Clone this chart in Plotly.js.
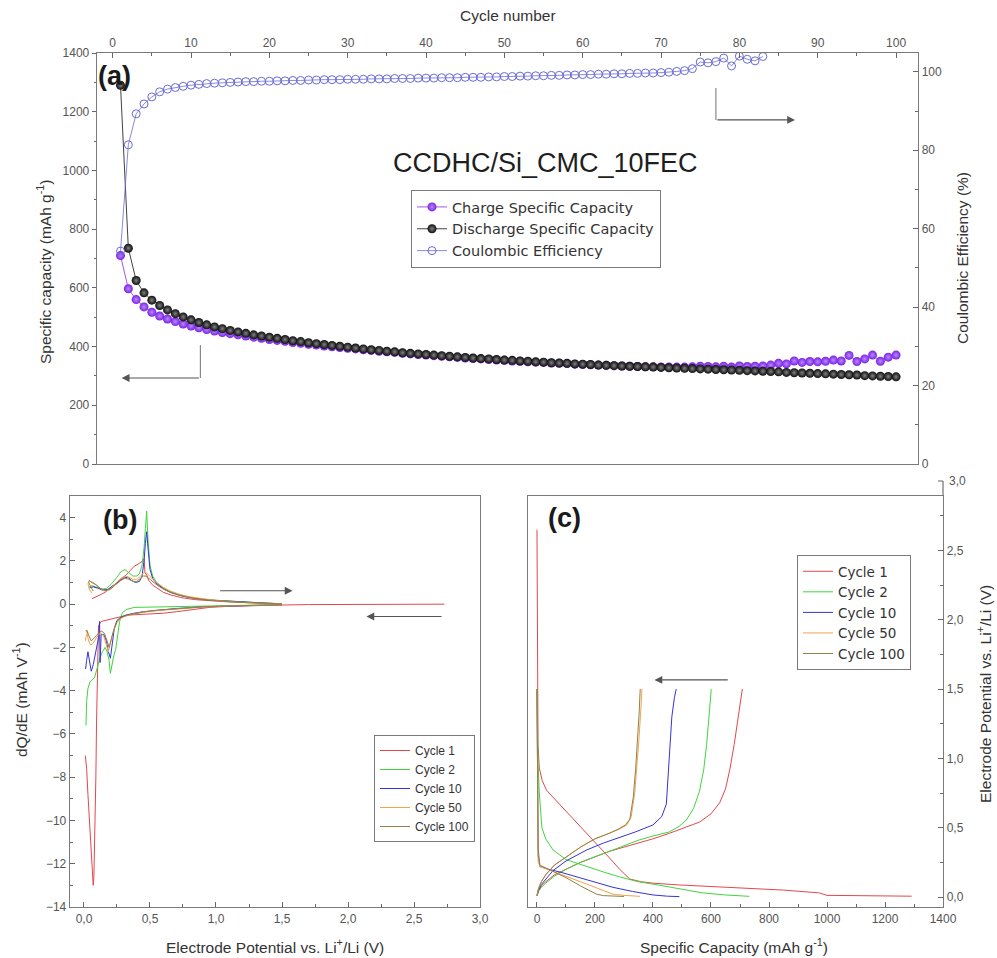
<!DOCTYPE html>
<html>
<head>
<meta charset="utf-8">
<script src="https://cdn.plot.ly/plotly-3.0.1.min.js"></script>
<style>
  html, body { margin: 0; padding: 0; background: #ffffff; }
  #chart { width: 997px; height: 958px; }
</style>
</head>
<body>
<div id="chart"></div>
<script>
// ---------- (a) cycling performance, cycles 1..100 ----------
const chargeCapacity = [
  710, 597, 560, 535, 517, 504, 494, 485, 477, 470,
  464, 458, 453, 448, 444, 440, 436, 432, 428, 424,
  421, 418, 414, 411, 408, 405, 402, 399, 397, 394,
  392, 389, 387, 384, 382, 380, 377, 375, 373, 371,
  369, 367, 365, 363, 361, 359, 358, 356, 354, 353,
  351, 350, 348, 347, 346, 344, 343, 342, 340, 339,
  338, 337, 336, 335, 334, 333, 332, 331, 331, 330,
  330, 330, 330, 331, 333, 332, 331, 333, 330, 334,
  332, 333, 334, 337, 343, 341, 351, 346, 349, 348,
  350, 354, 351, 370, 349, 358, 371, 350, 364, 371
];
const dischargeCapacity = [
  1290, 735, 625, 583, 558, 540, 525, 512, 501, 491,
  482, 474, 467, 461, 455, 450, 445, 440, 436, 432,
  428, 424, 420, 417, 413, 410, 407, 404, 401, 398,
  395, 392, 389, 387, 384, 382, 379, 377, 375, 373,
  371, 369, 367, 365, 363, 361, 359, 358, 356, 354,
  353, 351, 350, 348, 347, 345, 344, 343, 341, 340,
  339, 337, 336, 335, 334, 333, 332, 331, 330, 329,
  328, 327, 326, 325, 324, 323, 322, 321, 320, 319,
  318, 317, 316, 315, 314, 312, 311, 310, 309, 308,
  307, 306, 305, 304, 303, 301, 300, 299, 298, 297
];
// Coulombic efficiency (%), cycles 1..83 (later cycles lie above the axis range)
const coulombicEfficiency = [
  54.3, 81.4, 89.3, 91.8, 93.6, 94.9, 95.6, 96.0, 96.3, 96.6,
  96.8, 97.0, 97.1, 97.2, 97.3, 97.4, 97.5, 97.5, 97.6, 97.6,
  97.7, 97.7, 97.8, 97.8, 97.9, 97.9, 98.0, 98.0, 98.0, 98.1,
  98.1, 98.1, 98.2, 98.2, 98.2, 98.3, 98.3, 98.3, 98.4, 98.4,
  98.4, 98.5, 98.5, 98.5, 98.6, 98.6, 98.6, 98.7, 98.7, 98.8,
  98.8, 98.9, 98.9, 99.0, 99.0, 99.1, 99.1, 99.2, 99.2, 99.3,
  99.3, 99.4, 99.4, 99.5, 99.5, 99.6, 99.6, 99.7, 99.7, 99.8,
  99.9, 100.1, 100.3, 100.8, 102.5, 102.3, 102.6, 103.5, 101.5, 104.0,
  103.2, 102.8, 103.9
];
const cycleNumber = chargeCapacity.map((_, i) => i + 1);
const ceCycleNumber = coulombicEfficiency.map((_, i) => i + 1);

// ---------- (b) differential capacity dQ/dE vs potential ----------
const cycleNames = ['Cycle 1', 'Cycle 2', 'Cycle 10', 'Cycle 50', 'Cycle 100'];
const cycleColors = ['#E3474B', '#3FD43F', '#3434D6', '#F4A24C', '#918247'];

const dqdeChgV_1 = [0.06, 0.1, 0.13, 0.16, 0.2, 0.24, 0.28, 0.32, 0.35, 0.38, 0.41, 0.43, 0.445, 0.455, 0.462, 0.475, 0.49, 0.52, 0.56, 0.6, 0.66, 0.74, 0.84, 0.95, 1.05, 1.15, 1.25, 1.35, 1.45, 1.5];
const dqdeChg_1  = [0.25, 0.35, 0.45, 0.55, 0.75, 0.95, 1.15, 1.35, 1.55, 1.75, 1.85, 1.95, 2.0, 2.1, 1.45, 1.35, 1.1, 0.88, 0.7, 0.55, 0.42, 0.3, 0.21, 0.15, 0.12, 0.09, 0.07, 0.05, 0.03, 0.02];
const dqdeDisV_1 = [2.73, 2.4, 2.0, 1.7, 1.5, 1.3, 1.1, 0.95, 0.8, 0.7, 0.6, 0.5, 0.42, 0.35, 0.3, 0.25, 0.2, 0.16, 0.13, 0.11, 0.1, 0.095, 0.09, 0.085, 0.08, 0.075, 0.07, 0.065, 0.06, 0.05, 0.04, 0.03, 0.02, 0.012, 0.01];
const dqdeDis_1  = [0, 0, -0.01, -0.02, -0.04, -0.06, -0.1, -0.15, -0.25, -0.35, -0.42, -0.45, -0.48, -0.5, -0.55, -0.62, -0.7, -0.75, -0.8, -1.0, -3.6, -5.5, -8.0, -10.2, -11.8, -12.6, -13.0, -12.5, -12.0, -11.2, -10.0, -8.8, -7.6, -7.2, -7.0];

const dqdeChgV_2 = [0.04, 0.06, 0.09, 0.13, 0.17, 0.21, 0.25, 0.28, 0.31, 0.34, 0.37, 0.4, 0.42, 0.44, 0.455, 0.465, 0.475, 0.485, 0.5, 0.52, 0.55, 0.6, 0.66, 0.74, 0.84, 0.95, 1.1, 1.25, 1.4, 1.5];
const dqdeChg_2  = [0.8, 0.85, 0.8, 0.7, 0.72, 0.95, 1.25, 1.5, 1.6, 1.45, 1.3, 1.3, 1.4, 1.8, 2.6, 3.5, 4.3, 3.0, 1.8, 1.3, 1.0, 0.75, 0.55, 0.4, 0.28, 0.2, 0.14, 0.08, 0.04, 0.02];
const dqdeDisV_2 = [1.5, 1.3, 1.1, 0.9, 0.7, 0.55, 0.45, 0.38, 0.32, 0.29, 0.27, 0.255, 0.24, 0.225, 0.21, 0.2, 0.19, 0.175, 0.16, 0.14, 0.12, 0.1, 0.08, 0.06, 0.045, 0.03, 0.02, 0.015];
const dqdeDis_2  = [-0.02, -0.04, -0.06, -0.08, -0.09, -0.1, -0.12, -0.15, -0.25, -0.4, -0.8, -1.5, -2.1, -2.4, -2.8, -3.2, -2.6, -2.2, -2.0, -2.2, -2.5, -3.0, -3.4, -3.5, -3.6, -3.9, -4.5, -5.6];

const dqdeChgV_10 = [0.04, 0.07, 0.1, 0.14, 0.18, 0.22, 0.26, 0.3, 0.33, 0.36, 0.39, 0.42, 0.44, 0.455, 0.465, 0.475, 0.485, 0.5, 0.52, 0.55, 0.6, 0.66, 0.74, 0.84, 0.95, 1.1, 1.25, 1.4, 1.5];
const dqdeChg_10  = [0.75, 0.8, 0.75, 0.65, 0.68, 0.85, 1.05, 1.2, 1.25, 1.1, 1.0, 1.05, 1.3, 2.0, 2.8, 3.35, 2.6, 1.6, 1.2, 0.95, 0.72, 0.53, 0.38, 0.27, 0.19, 0.13, 0.08, 0.04, 0.02];
const dqdeDisV_10 = [1.5, 1.3, 1.1, 0.9, 0.7, 0.55, 0.45, 0.38, 0.32, 0.28, 0.25, 0.23, 0.215, 0.2, 0.185, 0.17, 0.15, 0.13, 0.122, 0.118, 0.112, 0.1, 0.085, 0.07, 0.055, 0.04, 0.03, 0.02, 0.012];
const dqdeDis_10  = [-0.03, -0.05, -0.08, -0.12, -0.2, -0.28, -0.35, -0.42, -0.5, -0.6, -0.75, -1.1, -1.8, -2.5, -2.2, -1.7, -1.4, -1.4, -2.7, -0.8, -1.5, -1.9, -2.3, -2.8, -3.1, -2.6, -2.2, -2.6, -3.0];

const dqdeChgV_50 = [0.06, 0.04, 0.03, 0.045, 0.07, 0.1, 0.13, 0.16, 0.2, 0.24, 0.28, 0.31, 0.34, 0.37, 0.4, 0.43, 0.45, 0.47, 0.49, 0.52, 0.56, 0.6, 0.65, 0.72, 0.8, 0.9, 1.0, 1.15, 1.3, 1.5];
const dqdeChg_50  = [0.5, 0.7, 0.95, 1.05, 1.0, 0.85, 0.7, 0.6, 0.7, 0.95, 1.2, 1.3, 1.25, 1.15, 1.15, 1.3, 1.45, 1.45, 1.35, 1.15, 0.95, 0.78, 0.62, 0.46, 0.34, 0.24, 0.17, 0.1, 0.05, 0.02];
const dqdeDisV_50 = [1.5, 1.3, 1.1, 0.9, 0.7, 0.55, 0.45, 0.38, 0.32, 0.28, 0.25, 0.22, 0.2, 0.185, 0.17, 0.15, 0.13, 0.11, 0.09, 0.07, 0.05, 0.035, 0.025, 0.02, 0.03, 0.015, 0.01];
const dqdeDis_50  = [-0.03, -0.05, -0.08, -0.13, -0.22, -0.3, -0.38, -0.45, -0.55, -0.65, -0.85, -1.3, -1.8, -2.2, -1.9, -1.5, -1.35, -1.4, -1.6, -1.8, -1.9, -1.7, -1.4, -1.2, -1.3, -1.5, -1.7];

const dqdeChgV_100 = [0.07, 0.05, 0.035, 0.04, 0.06, 0.09, 0.12, 0.16, 0.2, 0.24, 0.28, 0.31, 0.34, 0.37, 0.4, 0.43, 0.45, 0.47, 0.49, 0.52, 0.56, 0.6, 0.65, 0.72, 0.8, 0.9, 1.0, 1.15, 1.3, 1.5];
const dqdeChg_100  = [0.6, 0.8, 1.0, 1.1, 1.0, 0.9, 0.75, 0.62, 0.68, 0.9, 1.1, 1.2, 1.15, 1.05, 1.05, 1.2, 1.3, 1.3, 1.2, 1.02, 0.85, 0.7, 0.56, 0.42, 0.3, 0.21, 0.15, 0.09, 0.05, 0.02];
const dqdeDisV_100 = [1.5, 1.3, 1.1, 0.9, 0.7, 0.55, 0.45, 0.38, 0.32, 0.28, 0.25, 0.225, 0.205, 0.19, 0.175, 0.155, 0.135, 0.115, 0.095, 0.075, 0.055, 0.04, 0.03, 0.02, 0.012];
const dqdeDis_100  = [-0.03, -0.05, -0.08, -0.13, -0.2, -0.28, -0.36, -0.43, -0.52, -0.62, -0.8, -1.2, -1.6, -2.0, -1.7, -1.35, -1.25, -1.3, -1.45, -1.6, -1.7, -1.5, -1.3, -1.2, -1.25];

// ---------- (c) galvanostatic profiles: capacity (mAh/g) vs potential (V) ----------
const disCap_1 = [0, 0.5, 1, 2, 3.5, 8, 18, 33, 60, 100, 140, 180, 220, 251, 285, 320, 360, 400, 491, 600, 742, 850, 973, 990, 1000, 1100, 1200, 1292];
const disPot_1 = [2.65, 2.3, 1.9, 1.4, 1.1, 0.93, 0.84, 0.77, 0.71, 0.62, 0.53, 0.44, 0.35, 0.28, 0.2, 0.13, 0.11, 0.1, 0.087, 0.077, 0.065, 0.05, 0.03, 0.02, 0.012, 0.01, 0.008, 0.006];
const chgCap_1 = [0, 5, 15, 30, 60, 100, 150, 200, 250, 300, 350, 400, 457, 510, 560, 600, 630, 650, 665, 680, 695, 708];
const chgPot_1 = [0.01, 0.04, 0.08, 0.11, 0.16, 0.2, 0.25, 0.29, 0.33, 0.36, 0.39, 0.42, 0.46, 0.5, 0.54, 0.6, 0.68, 0.78, 0.92, 1.1, 1.3, 1.5];

const disCap_2 = [0, 1, 2, 4, 8, 12, 17, 30, 55, 100, 170, 230, 285, 350, 423, 500, 570, 650, 700, 732];
const disPot_2 = [1.5, 1.35, 1.15, 0.95, 0.75, 0.6, 0.5, 0.42, 0.34, 0.27, 0.22, 0.18, 0.145, 0.11, 0.085, 0.058, 0.03, 0.015, 0.008, 0.005];
const chgCap_2 = [0, 5, 15, 30, 60, 100, 150, 200, 250, 300, 350, 400, 457, 490, 515, 540, 560, 575, 585, 593, 601];
const chgPot_2 = [0.01, 0.04, 0.07, 0.1, 0.15, 0.2, 0.25, 0.29, 0.33, 0.37, 0.41, 0.44, 0.47, 0.51, 0.555, 0.64, 0.76, 0.92, 1.1, 1.3, 1.5];

const disCap_10 = [0, 1, 2, 4, 10, 40, 80, 137, 200, 262, 330, 400, 450, 491];
const disPot_10 = [1.5, 0.9, 0.5, 0.3, 0.22, 0.2, 0.18, 0.145, 0.11, 0.07, 0.04, 0.015, 0.006, 0.003];
const chgCap_10 = [0, 5, 15, 30, 55, 100, 172, 230, 285, 340, 400, 430, 446, 452, 457, 465, 474, 480];
const chgPot_10 = [0.01, 0.05, 0.09, 0.13, 0.19, 0.26, 0.34, 0.39, 0.43, 0.47, 0.52, 0.58, 0.67, 0.85, 1.06, 1.3, 1.44, 1.5];

const disCap_50 = [0, 1, 2, 4, 10, 50, 100, 150, 200, 240, 262, 300, 330, 355];
const disPot_50 = [1.5, 0.8, 0.4, 0.26, 0.22, 0.19, 0.15, 0.11, 0.07, 0.04, 0.02, 0.012, 0.008, 0.005];
const chgCap_50 = [0, 5, 15, 30, 60, 100, 150, 200, 250, 285, 310, 325, 337, 345, 352, 358, 362];
const chgPot_50 = [0.01, 0.06, 0.11, 0.16, 0.23, 0.29, 0.36, 0.42, 0.46, 0.49, 0.52, 0.58, 0.75, 0.95, 1.15, 1.35, 1.5];

const disCap_100 = [0, 1, 2, 4, 10, 50, 100, 150, 206, 230, 260, 300];
const disPot_100 = [1.5, 1.2, 0.7, 0.35, 0.23, 0.19, 0.14, 0.08, 0.02, 0.01, 0.007, 0.004];
const chgCap_100 = [0, 5, 15, 30, 60, 100, 150, 200, 250, 280, 305, 320, 332, 340, 347, 352, 356];
const chgPot_100 = [0.01, 0.06, 0.11, 0.16, 0.23, 0.29, 0.36, 0.42, 0.46, 0.49, 0.52, 0.56, 0.72, 0.92, 1.12, 1.32, 1.5];

// ---------- page geometry helpers (pixel -> paper fraction) ----------
const W = 997, H = 958;
const pxX = v => v / W;
const pxY = v => 1 - v / H;

const FONT = 'Liberation Sans, Arial, Helvetica, sans-serif';
const LEGEND_FONT = 'DejaVu Sans, Liberation Sans, Arial, sans-serif';
const AXIS_LINE = '#7a7a7a';
const TICK_FONT = { family: FONT, size: 12, color: '#555555' };

const traces = [];

// (a) capacity and efficiency
traces.push({
  x: cycleNumber, y: chargeCapacity, xaxis: 'x', yaxis: 'y',
  name: 'Charge Specific Capacity', mode: 'lines+markers', legend: 'legend',
  line: { color: '#8A2BE2', width: 0.8 },
  marker: { size: 9, color: '#7B22E4', gradient: { type: 'radial', color: '#B889FF' }, line: { width: 0 } }
});
traces.push({
  x: cycleNumber, y: dischargeCapacity, xaxis: 'x', yaxis: 'y',
  name: 'Discharge Specific Capacity', mode: 'lines+markers', legend: 'legend',
  line: { color: '#111111', width: 0.8 },
  marker: { size: 9, color: '#0d0d0d', gradient: { type: 'radial', color: '#808080' }, line: { width: 0 } }
});
traces.push({
  x: ceCycleNumber, y: coulombicEfficiency, xaxis: 'x', yaxis: 'y2',
  name: 'Coulombic Efficiency', mode: 'lines+markers', legend: 'legend',
  line: { color: '#6B6BD6', width: 0.8 },
  marker: { size: 8, symbol: 'circle-open', color: '#6B6BD6', line: { width: 1, color: '#6B6BD6' } }
});

// (b) dQ/dE curves
const dqdeSets = [
  [dqdeChgV_1, dqdeChg_1, dqdeDisV_1, dqdeDis_1],
  [dqdeChgV_2, dqdeChg_2, dqdeDisV_2, dqdeDis_2],
  [dqdeChgV_10, dqdeChg_10, dqdeDisV_10, dqdeDis_10],
  [dqdeChgV_50, dqdeChg_50, dqdeDisV_50, dqdeDis_50],
  [dqdeChgV_100, dqdeChg_100, dqdeDisV_100, dqdeDis_100]
];
dqdeSets.forEach((s, i) => {
  traces.push({
    x: s[0], y: s[1], xaxis: 'x2', yaxis: 'y3', mode: 'lines',
    name: cycleNames[i], legend: 'legend2', legendgroup: 'b' + i,
    line: { color: cycleColors[i], width: 1 }
  });
  traces.push({
    x: s[2], y: s[3], xaxis: 'x2', yaxis: 'y3', mode: 'lines',
    name: cycleNames[i], legend: 'legend2', legendgroup: 'b' + i, showlegend: false,
    line: { color: cycleColors[i], width: 1 }
  });
});

// (c) voltage profiles
const profileSets = [
  [disCap_1, disPot_1, chgCap_1, chgPot_1],
  [disCap_2, disPot_2, chgCap_2, chgPot_2],
  [disCap_10, disPot_10, chgCap_10, chgPot_10],
  [disCap_50, disPot_50, chgCap_50, chgPot_50],
  [disCap_100, disPot_100, chgCap_100, chgPot_100]
];
profileSets.forEach((s, i) => {
  traces.push({
    x: s[0], y: s[1], xaxis: 'x3', yaxis: 'y4', mode: 'lines',
    name: cycleNames[i], legend: 'legend3', legendgroup: 'c' + i,
    line: { color: cycleColors[i], width: 1 }
  });
  traces.push({
    x: s[2], y: s[3], xaxis: 'x3', yaxis: 'y4', mode: 'lines',
    name: cycleNames[i], legend: 'legend3', legendgroup: 'c' + i, showlegend: false,
    line: { color: cycleColors[i], width: 1 }
  });
});

const baseAxis = {
  showline: true, linecolor: AXIS_LINE, linewidth: 1.3,
  showgrid: false, zeroline: false, tickfont: TICK_FONT,
  tickcolor: '#666', tickwidth: 1, ticklen: 5
};

const legendBase = {
  xanchor: 'left', yanchor: 'top', bgcolor: 'rgba(255,255,255,0)',
  bordercolor: '#7a7a7a', borderwidth: 1, tracegroupgap: 0, itemwidth: 30,
  font: { family: FONT, size: 13, color: '#333' }
};

const TITLE_FONT = { family: FONT, size: 15.5, color: '#333' };
const ann = (text, x, y, opts) => Object.assign({
  text: text, x: x, y: y, xref: 'paper', yref: 'paper', showarrow: false,
  xanchor: 'center', yanchor: 'middle', font: TITLE_FONT
}, opts || {});
const PANEL_FONT = { family: FONT, size: 27, color: '#1a1a1a' };

const arrow = (xref, yref, x0, y0, x1, y1) => ({
  xref: xref, yref: yref, axref: xref, ayref: yref,
  x: x1, y: y1, ax: x0, ay: y0, text: '', showarrow: true,
  arrowhead: 2, arrowsize: 1.3, arrowwidth: 1.2, arrowcolor: '#555'
});

// panel (c) box; its potential axis continues a little above the box up to 3,0 V
const cLeft = pxX(528), cRight = pxX(943), cTop = pxY(496), cBottom = pxY(907), cAxisTop = pxY(481);

const layout = {
  width: W, height: H,
  margin: { l: 0, r: 0, t: 0, b: 0 },
  paper_bgcolor: '#ffffff', plot_bgcolor: 'rgba(0,0,0,0)',
  separators: ',.',
  font: { family: FONT },
  hovermode: false,

  // (a)
  xaxis: Object.assign({}, baseAxis, {
    domain: [pxX(97), pxX(918)], anchor: 'y', side: 'top', mirror: true,
    range: [-2, 102.8], tick0: 0, dtick: 10, ticks: 'inside',
    minor: { dtick: 5, ticks: 'inside', ticklen: 3, tickcolor: '#666' }
  }),
  yaxis: Object.assign({}, baseAxis, {
    domain: [pxY(464), pxY(53)], anchor: 'x', mirror: true,
    range: [0, 1400], dtick: 200, ticks: 'outside', ticklen: 4,
    minor: { dtick: 100, ticks: 'outside', ticklen: 2, tickcolor: '#666' }
  }),
  yaxis2: Object.assign({}, baseAxis, {
    overlaying: 'y', anchor: 'x', side: 'right',
    range: [0, 104.8], dtick: 20, ticks: 'inside',
    minor: { dtick: 10, ticks: 'inside', ticklen: 3, tickcolor: '#666' }
  }),

  // (b)
  xaxis2: Object.assign({}, baseAxis, {
    domain: [pxX(70), pxX(480)], anchor: 'y3', mirror: true,
    range: [-0.106, 3.0], tick0: 0, dtick: 0.5, tickformat: '.1f', ticks: 'inside',
    minor: { dtick: 0.25, ticks: 'inside', ticklen: 3, tickcolor: '#666' }
  }),
  yaxis3: Object.assign({}, baseAxis, {
    domain: [pxY(907), pxY(496)], anchor: 'x2', mirror: true,
    range: [-14, 5.0], dtick: 2, ticks: 'inside',
    minor: { dtick: 1, ticks: 'inside', ticklen: 3, tickcolor: '#666' }
  }),

  // (c)
  xaxis3: Object.assign({}, baseAxis, {
    domain: [cLeft, cRight], anchor: 'y4', mirror: true,
    range: [-31, 1400], tick0: 0, dtick: 200, ticks: 'inside',
    minor: { dtick: 100, ticks: 'inside', ticklen: 3, tickcolor: '#666' }
  }),
  yaxis4: Object.assign({}, baseAxis, {
    domain: [cBottom, cTop], anchor: 'x3', side: 'right', mirror: true,
    range: [-0.072, 2.893], tick0: 0, dtick: 0.5, tickformat: '.1f', ticks: 'inside',
    minor: { dtick: 0.25, ticks: 'inside', ticklen: 3, tickcolor: '#666' }
  }),

  legend: Object.assign({}, legendBase, { x: pxX(411), y: pxY(190), font: { family: LEGEND_FONT, size: 14.5, color: '#333' } }),
  legend2: Object.assign({}, legendBase, { x: pxX(374), y: pxY(735), font: { family: FONT, size: 12, color: '#333' } }),
  legend3: Object.assign({}, legendBase, { x: pxX(797), y: pxY(555), font: { family: LEGEND_FONT, size: 13.5, color: '#333' } }),

  shapes: [
    // potential axis of (c) extended to its 3,0 V tick
    { type: 'line', xref: 'paper', yref: 'paper', x0: cRight, x1: cRight, y0: cTop, y1: cAxisTop, line: { color: AXIS_LINE, width: 1.3 } },
    { type: 'line', xref: 'paper', yref: 'paper', x0: cRight - pxX(5), x1: cRight, y0: cAxisTop, y1: cAxisTop, line: { color: '#666', width: 1 } },
    // elbow stems of the axis-pointer arrows in (a)
    { type: 'line', xref: 'x', yref: 'y', x0: 77.0, x1: 77.0, y0: 1281, y1: 1172, line: { color: '#888', width: 1.2 } },
    { type: 'line', xref: 'x', yref: 'y', x0: 11.2, x1: 11.2, y0: 405, y1: 293, line: { color: '#888', width: 1.2 } }
  ],

  annotations: [
    ann('Cycle number', pxX(508), pxY(16)),
    ann('Specific capacity (mAh g<sup>-1</sup>)', pxX(44), pxY(272), { textangle: -90 }),
    ann('Coulombic Efficiency (%)', pxX(962), pxY(258), { textangle: -90 }),
    ann('dQ/dE (mAh V<sup>-1</sup>)', pxX(20), pxY(700), { textangle: -90 }),
    ann('Electrode Potential vs. Li<sup>+</sup>/Li (V)', pxX(275), pxY(946)),
    ann('Specific Capacity (mAh g<sup>-1</sup>)', pxX(734), pxY(946)),
    ann('Electrode Potential vs. Li<sup>+</sup>/Li (V)', pxX(984), pxY(694), { textangle: -90 }),
    ann('3,0', pxX(947), cAxisTop, { xanchor: 'left', font: TICK_FONT }),
    ann('CCDHC/Si_CMC_10FEC', pxX(545), pxY(163), { font: { family: FONT, size: 27, color: '#1e1e1e' } }),
    ann('<b>(a)</b>', pxX(96), pxY(76), { xanchor: 'left', font: PANEL_FONT }),
    ann('<b>(b)</b>', pxX(101), pxY(520), { xanchor: 'left', font: PANEL_FONT }),
    ann('<b>(c)</b>', pxX(546), pxY(518), { xanchor: 'left', font: PANEL_FONT }),
    arrow('x', 'y', 77.0, 1172, 87.1, 1172),
    arrow('x', 'y', 11.2, 293, 1.15, 293),
    arrow('x2', 'y3', 1.02, 0.62, 1.58, 0.62),
    arrow('x2', 'y3', 2.72, -0.57, 2.14, -0.57),
    arrow('x3', 'y4', 663, 1.566, 405, 1.566)
  ]
};

Plotly.newPlot('chart', traces, layout, { staticPlot: true, displayModeBar: false });
</script>
</body>
</html>
